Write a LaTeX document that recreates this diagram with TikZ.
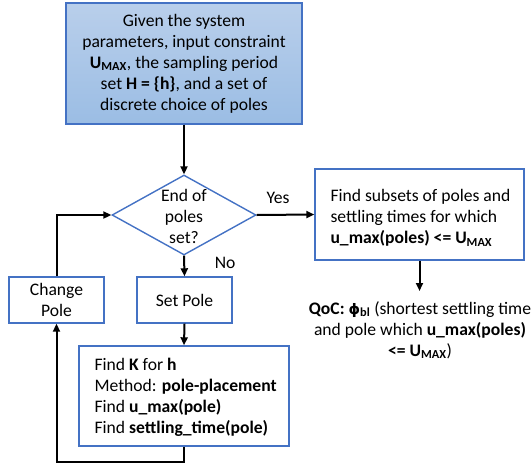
\documentclass[tikz,border=0pt]{standalone}
\usepackage{fontspec}
\setmainfont{Carlito}
\newfontfamily\symfont{DejaVu Sans}
\usetikzlibrary{shapes.geometric,arrows.meta}
\definecolor{bordblue}{RGB}{68,114,196}
\definecolor{filltop}{RGB}{185,207,235}
\definecolor{fillbot}{RGB}{155,189,228}
\tikzset{
  box/.style={draw=bordblue, line width=1.4pt, fill=white, inner sep=0pt},
  conn/.style={line width=2pt, -{Triangle[length=8pt,width=7pt]}},
  txt/.style={font=\fontsize{17.6}{21}\selectfont},
}
\newcommand{\umax}{\textbf{U}\textsubscript{\textbf{MAX}}}
\begin{document}
\begin{tikzpicture}[x=1pt,y=-1pt]
\useasboundingbox (0,0) rectangle (532,466);
% top box
\node[box, top color=filltop, bottom color=fillbot, minimum width=236pt, minimum height=121pt, txt, align=center] (given) at (184,63.5)
  {Given the system\\parameters, input constraint\\\umax, the sampling period\\set \textbf{H = \{h\}}, and a set of\\discrete choice of poles};
% decision
\node[diamond, draw=bordblue, line width=1.4pt, minimum width=144pt, minimum height=80pt, inner sep=0pt, aspect=1.8] (dec) at (184,215) {};
\node[txt, align=center] (dectxt) at (184,216) {End of\\poles\\set?};
% right box
\node[box, minimum width=209pt, minimum height=91pt] (subsets) at (419.5,214.5) {};
\node[txt, align=left, anchor=west] (subtxt) at (327,218) {Find subsets of poles and\\settling times for which\\\textbf{u\_max(poles) <=} \umax};
% QoC
\node[txt, align=center, anchor=north, inner sep=0pt] (qoc) at (420,301)
  {\textbf{QoC: {\symfont\fontsize{14.5}{14}\selectfont ϕ}\textsubscript{bl}} (shortest settling time\\and pole which \textbf{u\_max(poles)}\\\textbf{<=} \umax)};
\coordinate (qocin) at (419.5,291);
% set pole
\node[box, minimum width=95pt, minimum height=46pt, txt] (setpole) at (184.5,300) {Set Pole};
% change pole
\node[box, minimum width=95pt, minimum height=46pt, txt, align=center] (change) at (56.5,300) {Change\\Pole};
% find K box
\node[box, minimum width=210pt, minimum height=100pt] (findk) at (184,396) {};
\node[txt, align=left, anchor=west] (findktxt) at (91,397) {Find \textbf{K} for \textbf{h}\\Method: \textbf{pole-placement}\\Find \textbf{u\_max(pole)}\\Find \textbf{settling\_time(pole)}};
% connectors
\draw[conn] (given.south) -- (dec.north);
\draw[conn] (dec.east) -- node[txt, pos=0.37, yshift=17pt] (yes) {Yes} (subsets.west);
\draw[conn] (subsets.south) -- (qocin);
\draw[conn] (dec.south) -- node[txt, pos=0.36, xshift=41pt] (no) {No} (setpole.north);
\draw[conn] (setpole.south) -- (findk.north);
\coordinate (loopc) at (184,462);
\draw[conn] (findk.south) -- (loopc) -| (change.south);
\draw[conn] (change.north) |- (dec.west);
\end{tikzpicture}
\end{document}
